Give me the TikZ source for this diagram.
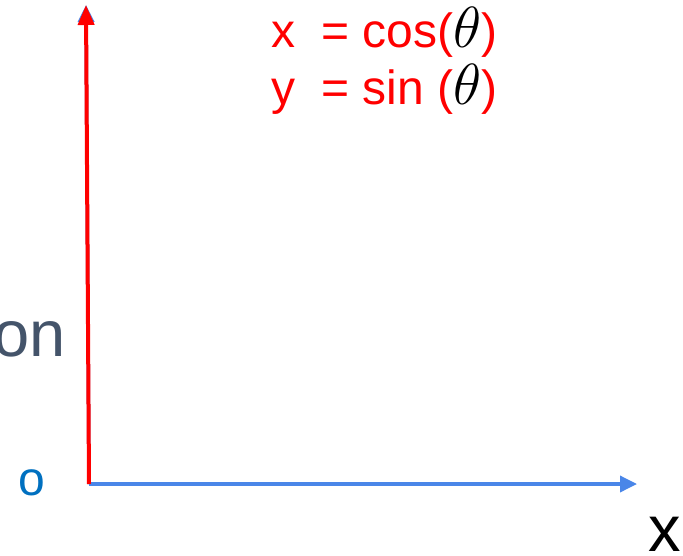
\documentclass[tikz,border=0pt]{standalone}
\usepackage{fix-cm}
\usepackage{fontspec}
\setmainfont{Liberation Sans}
\usepackage{xcolor}
\usetikzlibrary{arrows.meta, positioning, calc}
\definecolor{axisblue}{HTML}{4A86E8}
\definecolor{labelblue}{HTML}{0070C0}
\definecolor{slate}{HTML}{44546A}
\newcommand{\bigtheta}{\textcolor{black}{\fontsize{58}{60}\selectfont$\theta$}}

\begin{document}
\begin{tikzpicture}[
    x=1pt, y=1pt,
    axis/.style={draw=axisblue, line width=3.5pt, -{Triangle[length=17pt, width=16pt]}},
    yaxis/.style={draw=red, line width=4pt, -{Triangle[length=20pt, width=16pt]}},
    eqn/.style={anchor=base west, inner sep=0pt, text=red, font=\fontsize{48}{57}\selectfont},
    lbl/.style={inner sep=0pt, font=\fontsize{65}{78}\selectfont}
]
\useasboundingbox (0,0) rectangle (683,-555);

% Coordinates
\coordinate (origin) at (89,-484);
\coordinate (xend) at (637,-484);
\coordinate (yend) at (86,-5);

% Nodes
\node[eqn] (eqx) at (271,-47) {x\hspace{13pt} = cos(\bigtheta)};
\node[eqn] (eqy) at (271,-104) {y\hspace{13pt} = sin (\bigtheta)};
\node[lbl, anchor=base east, text=slate] (ylabel) at (66,-356) {on};
\node[inner sep=0pt, anchor=base west, text=labelblue, font=\fontsize{48}{57}\selectfont] (olabel) at (18,-495) {o};
\node[lbl, anchor=base east] (xlabel) at (681,-551) {x};

% Paths
\path[axis] (origin) -- (xend);
\path[axis] (origin) -- (yend);
\path[yaxis] (origin) -- (yend);

\end{tikzpicture}
\end{document}
